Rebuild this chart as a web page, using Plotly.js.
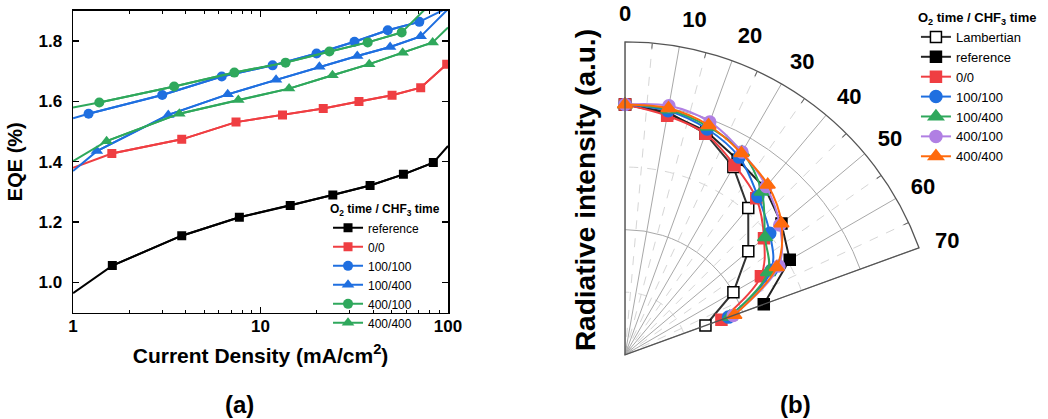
<!DOCTYPE html>
<html><head><meta charset="utf-8">
<script src="https://cdn.plot.ly/plotly-3.0.1.min.js"></script>
<style>html,body{margin:0;padding:0;background:#fff}#chart{width:1048px;height:419px}</style>
</head><body><div id="chart"></div>
<script>
// ---------- (a) EQE vs current density ----------
const refX   = [1, 1.62, 3.80, 7.71, 14.4, 24.3, 38.4, 57.8, 83.5, 100];
const refY   = [0.965, 1.056, 1.155, 1.216, 1.255, 1.290, 1.321, 1.358, 1.397, 1.452];
const s00X   = [1, 1.61, 3.80, 7.40, 13.1, 21.6, 33.5, 50.3, 71.5, 98.4];
const s00Y   = [1.380, 1.427, 1.474, 1.531, 1.555, 1.576, 1.599, 1.620, 1.645, 1.723];
const s1010X = [1, 1.21, 2.99, 6.21, 11.6, 19.9, 31.7, 47.7, 70.3, 100];
const s1010Y = [1.544, 1.559, 1.621, 1.682, 1.719, 1.758, 1.797, 1.835, 1.863, 1.910];
const s1040X = [1, 1.34, 3.22, 6.68, 12.1, 20.6, 32.8, 49.1, 71.5, 100];
const s1040Y = [1.369, 1.435, 1.555, 1.623, 1.671, 1.714, 1.750, 1.780, 1.815, 1.905];
const s4010X = [1, 1.38, 3.46, 7.25, 13.6, 23.3, 37.3, 56.6, 100];
const s4010Y = [1.579, 1.596, 1.649, 1.695, 1.728, 1.765, 1.795, 1.828, 1.980];
const s4040X = [1, 1.51, 3.69, 7.61, 14.2, 24.2, 38.0, 57.3, 82.8, 100];
const s4040Y = [1.402, 1.468, 1.559, 1.604, 1.642, 1.686, 1.723, 1.761, 1.795, 1.844];
const xTickVals = [1, 10, 100];
const xTickText = ['<b>1</b>', '<b>10</b>', '<b>100</b>'];
const xMinorVals = [2,3,4,5,6,7,8,9,20,30,40,50,60,70,80,90];
const yTickVals = [1.0, 1.2, 1.4, 1.6, 1.8];
const yTickText = ['<b>1.0</b>', '<b>1.2</b>', '<b>1.4</b>', '<b>1.6</b>', '<b>1.8</b>'];

// ---------- (b) angular distribution ----------
const angles    = [0, 10, 20, 30, 40, 50, 60, 70];
const angleText = ['<b>0</b>', '<b>10</b>', '<b>20</b>', '<b>30</b>', '<b>40</b>', '<b>50</b>', '<b>60</b>', '<b>70</b>'];
const lambR  = [1.000, 0.985, 0.940, 0.866, 0.766, 0.643, 0.500, 0.342];
const refR   = [1.000, 0.980, 0.950, 0.900, 0.870, 0.816, 0.760, 0.590];
const p00R   = [1.000, 0.970, 0.940, 0.875, 0.816, 0.725, 0.627, 0.410];
const p1010R = [1.000, 0.990, 0.960, 0.912, 0.826, 0.755, 0.675, 0.440];
const p1040R = [1.000, 0.995, 0.970, 0.935, 0.850, 0.730, 0.660, 0.445];
const p4010R = [1.000, 1.010, 0.990, 0.935, 0.878, 0.807, 0.710, 0.460];
const p4040R = [1.000, 1.000, 0.976, 0.930, 0.887, 0.816, 0.700, 0.465];

const FONT = 'Arial, "Liberation Sans", sans-serif';
const RED = '#EF3E42', BLUE = '#1F6FE0', GREEN = '#2FA85C', PURPLE = '#B07FE3', ORANGE = '#FF6A0D';

const eqeSeries = [
  {name:'reference', x:refX,   y:refY,   color:'#000000', symbol:'square',       size:9,  m0:1, m1:refX.length-1},
  {name:'0/0',       x:s00X,   y:s00Y,   color:RED,       symbol:'square',       size:9,  m0:1, m1:s00X.length},
  {name:'100/100',   x:s1010X, y:s1010Y, color:BLUE,      symbol:'circle',       size:10, m0:1, m1:s1010X.length-1},
  {name:'100/400',   x:s1040X, y:s1040Y, color:BLUE,      symbol:'triangle-up',  size:11, m0:1, m1:s1040X.length-1},
  {name:'400/100',   x:s4010X, y:s4010Y, color:GREEN,     symbol:'circle',       size:10, m0:1, m1:s4010X.length-1},
  {name:'400/400',   x:s4040X, y:s4040Y, color:GREEN,     symbol:'triangle-up',  size:11, m0:1, m1:s4040X.length-1}
];

const traces = [];
eqeSeries.forEach(s => {
  traces.push({type:'scatter', x:s.x, y:s.y, mode:'lines', line:{color:s.color, width:2},
    showlegend:false, hoverinfo:'skip', xaxis:'x', yaxis:'y'});
  traces.push({type:'scatter', x:s.x.slice(s.m0, s.m1), y:s.y.slice(s.m0, s.m1), mode:'lines+markers',
    name:s.name, line:{color:s.color, width:2}, marker:{symbol:s.symbol, size:s.size, color:s.color},
    xaxis:'x', yaxis:'y', legend:'legend'});
});

// underlay polar (dashed minor grid) needs one trace to exist
traces.push({type:'scatterpolar', subplot:'polar', r:lambR, theta:angles, mode:'lines',
  opacity:0, showlegend:false, hoverinfo:'skip'});

const polarSeries = [
  {name:'Lambertian', r:lambR,  color:'#333333', fill:'#ffffff', symbol:'square',      size:11, shape:'linear'},
  {name:'reference',  r:refR,   color:'#222222', fill:'#000000', symbol:'square',      size:11, shape:'linear'},
  {name:'0/0',        r:p00R,   color:RED,       fill:RED,       symbol:'square',      size:11, shape:'spline'},
  {name:'100/100',    r:p1010R, color:BLUE,      fill:BLUE,      symbol:'circle',      size:12, shape:'spline'},
  {name:'100/400',    r:p1040R, color:GREEN,     fill:GREEN,     symbol:'triangle-up', size:13, shape:'spline'},
  {name:'400/100',    r:p4010R, color:PURPLE,    fill:PURPLE,    symbol:'circle',      size:12, shape:'spline'},
  {name:'400/400',    r:p4040R, color:ORANGE,    fill:ORANGE,    symbol:'triangle-up', size:13, shape:'spline'}
];
polarSeries.forEach(s => {
  traces.push({type:'scatterpolar', subplot:'polar2', r:s.r, theta:angles, mode:'lines+markers',
    name:s.name, line:{color:s.color, width:2, shape:s.shape},
    marker:{symbol:s.symbol, size:s.size, color:s.fill, line:{color:(s.fill==='#ffffff'?'#000000':s.fill), width:1.5}},
    legend:'legend2'});
});

const polarDomain = {x:[0.5964, 0.8769], y:[0.1527, 0.9005]};

const layout = {
  width:1048, height:419,
  margin:{l:0, r:0, t:0, b:0},
  paper_bgcolor:'#ffffff', plot_bgcolor:'#ffffff',
  font:{family:FONT, color:'#000000'},
  showlegend:true,
  xaxis:{type:'log', domain:[0.0697, 0.4275], range:[0, 2],
    tickmode:'array', tickvals:xTickVals, ticktext:xTickText,
    ticks:'inside', ticklen:6, tickwidth:1.3, tickcolor:'#000',
    mirror:'allticks', showline:true, linewidth:1.5, linecolor:'#000',
    showgrid:false, zeroline:false, ticklabelstandoff:-3,
    tickfont:{size:17},
    minor:{tickmode:'array', tickvals:xMinorVals, ticks:'inside', ticklen:3, tickwidth:1, tickcolor:'#000', showgrid:false},
    title:{text:'<b>Current Density (mA/cm<sup>2</sup>)</b>', font:{size:21}, standoff:13}},
  yaxis:{domain:[0.2537, 0.9745], range:[0.9, 1.9],
    tickmode:'array', tickvals:yTickVals, ticktext:yTickText,
    ticks:'inside', ticklen:6, tickwidth:1.3, tickcolor:'#000',
    mirror:'allticks', showline:true, linewidth:1.5, linecolor:'#000',
    showgrid:false, zeroline:false, ticklabelstandoff:6,
    tickfont:{size:17},
    title:{text:'<b>EQE (%)</b>', font:{size:20}, standoff:10}},
  polar:{domain:polarDomain, sector:[20, 90], bgcolor:'#ffffff',
    radialaxis:{range:[0, 1.25], tickmode:'array', tickvals:[0.25, 0.75], showticklabels:false,
      ticks:'', showline:false, gridcolor:'#d6d6d6', griddash:'dash', gridwidth:1},
    angularaxis:{rotation:90, direction:'clockwise', tickmode:'array', tickvals:[5,15,25,35,45,55,65],
      showticklabels:false, ticks:'inside', ticklen:5, tickcolor:'#666', showline:false,
      gridcolor:'#d6d6d6', griddash:'dash', gridwidth:1}},
  polar2:{domain:polarDomain, sector:[20, 90], bgcolor:'rgba(0,0,0,0)',
    radialaxis:{range:[0, 1.25], tickmode:'array', tickvals:[0.5, 1.0], showticklabels:false,
      ticks:'', showline:false, gridcolor:'#a8a8a8', gridwidth:1},
    angularaxis:{rotation:90, direction:'clockwise', tickmode:'array', tickvals:angles, ticktext:angleText,
      ticks:'outside', ticklen:12, tickcolor:'rgba(0,0,0,0)', showline:true, linecolor:'#555', linewidth:1.3,
      gridcolor:'#a8a8a8', gridwidth:1, tickfont:{size:22}}},
  legend:{x:0.313, y:0.528, xanchor:'left', yanchor:'top', bgcolor:'rgba(0,0,0,0)',
    font:{size:12}, itemwidth:30, tracegroupgap:0,
    title:{text:'<b>O<sub>2</sub> time / CHF<sub>3</sub> time</b>', font:{size:12}}},
  legend2:{x:0.874, y:0.988, xanchor:'left', yanchor:'top', bgcolor:'rgba(0,0,0,0)',
    font:{size:13}, itemwidth:30, tracegroupgap:0,
    title:{text:'<b>O<sub>2</sub> time / CHF<sub>3</sub> time</b>', font:{size:13}}},
  annotations:[
    {text:'<b>(a)</b>', xref:'paper', yref:'paper', x:0.229, y:0.034, xanchor:'center', yanchor:'middle', showarrow:false, font:{size:24}},
    {text:'<b>(b)</b>', xref:'paper', yref:'paper', x:0.7586, y:0.034, xanchor:'center', yanchor:'middle', showarrow:false, font:{size:24}},
    {text:'<b>Radiative intensity (a.u.)</b>', xref:'paper', yref:'paper', x:0.5583, y:0.5465,
      xanchor:'center', yanchor:'middle', textangle:-90, showarrow:false, font:{size:28}}
  ]
};

Plotly.newPlot('chart', traces, layout, {staticPlot:true, displayModeBar:false});
</script></body></html>
